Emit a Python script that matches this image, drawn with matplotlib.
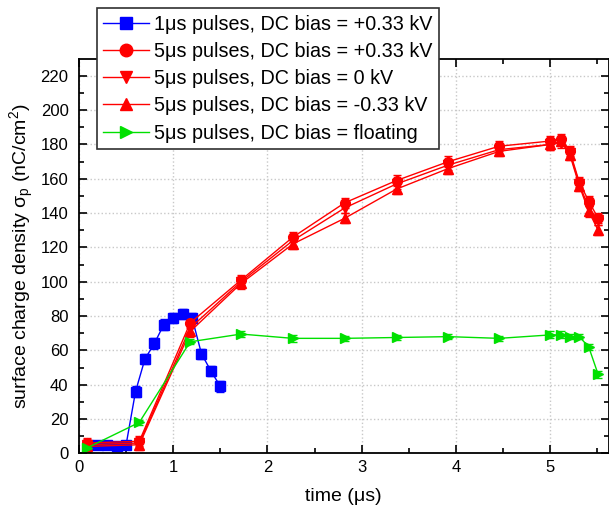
import numpy as np
import matplotlib.pyplot as plt
from matplotlib.lines import Line2D

plt.rcParams['font.family'] = ['Liberation Sans', 'DejaVu Sans']
plt.rcParams['mathtext.fontset'] = 'custom'
plt.rcParams['mathtext.rm'] = 'Liberation Sans'
plt.rcParams['mathtext.it'] = 'Liberation Sans'

# 1 us pulses, DC bias +0.33 kV
t_1us = [0.1, 0.2, 0.3, 0.4, 0.5, 0.6, 0.7, 0.8, 0.9, 1.0, 1.1, 1.2, 1.3, 1.4, 1.5]
s_1us = [5, 5, 5, 4, 5, 36, 55, 64, 75, 79, 81, 79, 58, 48, 39]
e_1us = [2, 2, 2, 2, 2, 3, 3, 3, 3, 3, 3, 3, 3, 3, 3]

# 5 us pulses
t_5us = [0.08, 0.64, 1.18, 1.72, 2.27, 2.82, 3.37, 3.92, 4.46, 5.00, 5.12, 5.21, 5.31, 5.41, 5.51]
s_pos = [6, 7, 76, 101, 126, 146, 159, 170, 179, 182, 183, 176, 158, 147, 137]
s_zero = [5, 6, 73, 100, 124, 143, 157, 168, 177, 180, 181, 175, 157, 143, 136]
s_neg = [4, 5, 71, 99, 122, 137, 154, 166, 176, 180, 182, 174, 156, 141, 130]
s_float = [3, 18, 65, 69.5, 67, 67, 67.5, 68, 67, 69, 69, 68, 68, 62, 46]
e_5us = [3, 3, 3, 3, 3, 3, 3, 3, 3, 3, 3, 3, 3, 3, 3]
e_float = [1.5, 1.5, 1.5, 2, 2, 1.5, 1.5, 1.5, 1.5, 2, 2, 1.5, 1.5, 1.5, 2]

labels = ['1\u03bcs pulses, DC bias = +0.33 kV',
          '5\u03bcs pulses, DC bias = +0.33 kV',
          '5\u03bcs pulses, DC bias = 0 kV',
          '5\u03bcs pulses, DC bias = -0.33 kV',
          '5\u03bcs pulses, DC bias = floating']

fig = plt.figure(figsize=(6.09, 5.14), dpi=100)
ax = fig.add_axes([79 / 609, 1 - 453.3 / 514, (608.5 - 79) / 609, (453.3 - 58.7) / 514])

series = [
    (t_1us, s_1us, e_1us, 's', '#0000ff'),
    (t_5us, s_pos, e_5us, 'o', '#ff0000'),
    (t_5us, s_zero, e_5us, 'v', '#ff0000'),
    (t_5us, s_neg, e_5us, '^', '#ff0000'),
    (t_5us, s_float, e_float, '>', '#00e000'),
]
handles = []
for (x, y, e, m, c), lab in zip(series, labels):
    ax.errorbar(x, y, yerr=e, fmt='-', marker=m, color=c, ecolor=c, lw=1,
                markersize=7, elinewidth=1, capsize=3, capthick=1)
    handles.append(Line2D([], [], color=c, lw=1, marker=m, markersize=9, label=lab))

ax.set_xlim(0, 5.62)
ax.set_ylim(0, 230)
ax.set_xticks(np.arange(0, 6, 1))
ax.set_xticks(np.arange(0.5, 5.6, 1), minor=True)
ax.set_yticks(np.arange(0, 221, 20))
ax.set_yticks(np.arange(10, 230, 20), minor=True)
ax.tick_params(which='both', direction='in', top=True, right=True, labelsize=12, width=1.2)
ax.tick_params(which='major', length=6)
ax.tick_params(which='minor', length=3.5)
ax.tick_params(axis='x', which='major', pad=4.5)
ax.tick_params(axis='y', which='major', pad=7.5)
for sp in ax.spines.values():
    sp.set_linewidth(1.3)
ax.grid(True, which='major', linestyle=':', color='#c8c8c8', lw=1)
ax.set_axisbelow(True)

ax.set_xlabel('time (\u03bcs)', fontsize=14, labelpad=10)
ax.set_ylabel('surface charge density \u03c3$_\\mathrm{p}$ (nC/cm$^2$)', fontsize=14, labelpad=3)

leg = ax.legend(handles=handles, loc='upper left', bbox_to_anchor=(96.7 / 609, 1 - 8 / 514),
                bbox_transform=fig.transFigure, fontsize=14.2, frameon=True,
                fancybox=False, edgecolor='#303030', framealpha=1, borderaxespad=0,
                handlelength=2.3, handletextpad=0.3, labelspacing=0.42, borderpad=0.33)
leg.get_frame().set_linewidth(1.2)

fig.savefig('out.png', dpi=100)
